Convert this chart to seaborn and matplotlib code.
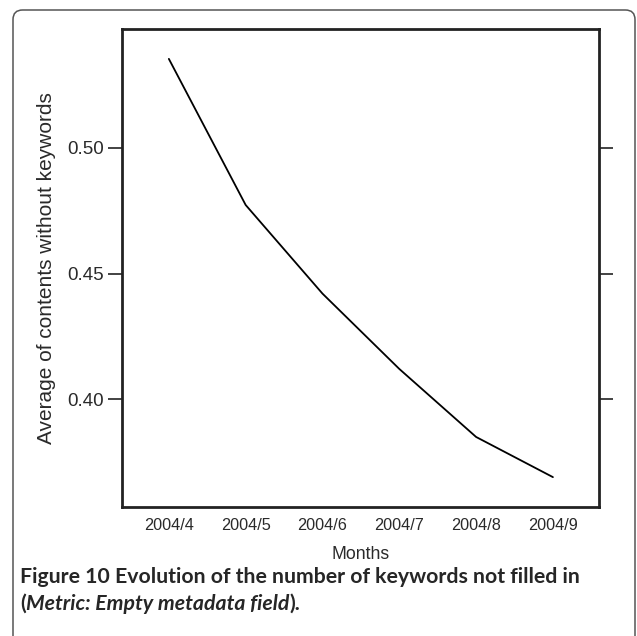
import numpy as np
import pandas as pd
import matplotlib
matplotlib.use("Agg")
import matplotlib.pyplot as plt
from matplotlib.patches import FancyBboxPatch
import seaborn as sns

# values
months = ["2004/4", "2004/5", "2004/6", "2004/7", "2004/8", "2004/9"]
avg_no_keywords = [0.5355, 0.4773, 0.4420, 0.4120, 0.3849, 0.3689]
y_ticks = [0.40, 0.45, 0.50]

sns.set_style("white")
plt.rcParams['font.family'] = ['Liberation Sans', 'DejaVu Sans']

df = pd.DataFrame({"month": months, "value": avg_no_keywords})
df["pos"] = np.arange(len(months))

fig = plt.figure(figsize=(6.37, 6.36), dpi=100)
ax = fig.add_axes([122 / 637, 1 - 507 / 636, 477 / 637, 478 / 636])

sns.lineplot(data=df, x="pos", y="value", ax=ax, color="black", linewidth=1.3)

ax.set_xlim(-0.61, 5.6)
ax.set_ylim(0.357, 0.5474)
ax.set_xticks(df["pos"])
ax.set_xticklabels(months)
ax.set_yticks(y_ticks)
ax.set_yticklabels([f"{v:.2f}" for v in y_ticks])

txt = "#2a2a2a"
ax.tick_params(axis="y", which="both", left=True, right=True, direction="out",
               length=10, width=1.2, color="#222222", labelsize=13.5,
               labelcolor=txt, pad=3)
ax.tick_params(axis="x", length=0, labelsize=11.7, labelcolor=txt, pad=8)
for s in ax.spines.values():
    s.set_color("#222222")
    s.set_linewidth(2)
    s.set_visible(True)

ax.set_xlabel("Months", fontsize=12.7, color=txt, labelpad=9)
ax.set_ylabel("Average of contents without keywords", fontsize=15, color=txt, labelpad=8)

# rounded frame round the figure
box = FancyBboxPatch((13 / 637, -0.05), 622 / 637, 1 - 10 / 636 + 0.05,
                     boxstyle="round,pad=0,rounding_size=0.015",
                     transform=fig.transFigure, fill=False,
                     edgecolor="#555555", linewidth=1.1, zorder=-1)
fig.patches.append(box)

# caption, pieces placed one after the other
cap = ['Lato', 'DejaVu Sans']
fs = 15.3
renderer = fig.canvas.get_renderer()


def chain(parts, x, y):
    for s, style in parts:
        t = fig.text(x, y, s, fontsize=fs, fontweight="bold", style=style,
                     family=cap, va="center", ha="left")
        bb = t.get_window_extent(renderer=renderer)
        x += bb.width / fig.bbox.width


chain([("Figure 10 ", "normal"),
       ("Evolution of the number of keywords not filled in", "normal")],
      20 / 637, 1 - 577 / 636)
chain([("(", "normal"), ("Metric: Empty metadata field", "italic"), (").", "normal")],
      20 / 637, 1 - 604 / 636)

fig.savefig("out.png", dpi=100)
